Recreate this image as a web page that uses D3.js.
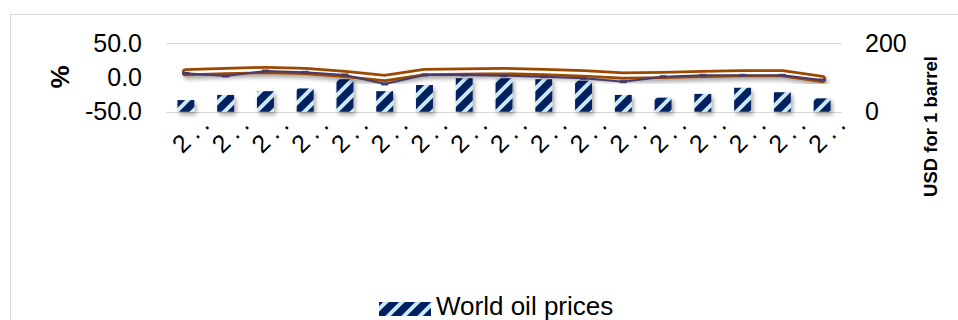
<!DOCTYPE html>
<html>
<head>
<meta charset="utf-8">
<script src="https://cdn.jsdelivr.net/npm/d3@7"></script>
<style>
  html, body { margin: 0; padding: 0; background: #fff; }
  svg { display: block; font-family: "Liberation Sans", Arial, sans-serif; }
</style>
</head>
<body>
<svg id="chart" width="958" height="320"></svg>
<script>
// ---- data ----
const categories = ["2004","2005","2006","2007","2008","2009","2010","2011","2012","2013","2014","2015","2016","2017","2018","2019","2020"];
const oilPrices = [34, 49, 60, 68, 95, 60, 78, 98, 98, 95, 91, 49, 41, 52, 70, 57, 39];
const linePurple = [6.1, 2.2, 9.5, 7.6, 3.7, -9.5, 3.7, 3.7, 2.6, 1.2, -1.2, -6.1, 1.2, 3.2, 3.2, 3.2, -3.7];
const lineOrange = [7.6, 9.5, 11, 9.5, 5.1, -0.7, 8, 8.8, 9.5, 8, 6.1, 2.9, 3.7, 5.1, 6.1, 6.1, -2.2];
const leftTicks = [-50, 0, 50];
const rightTicks = [0, 200];
const legendLabel = "World oil prices";
const leftTitle = "%";
const rightTitle = "USD for 1 barrel";

const svg = d3.select("#chart");
const plot = { left: 166, right: 842, top: 43.3, bottom: 111.7 };

// defs: pattern + shadow
const defs = svg.append("defs");
const pat = defs.append("pattern").attr("id", "hatch")
  .attr("patternUnits", "userSpaceOnUse").attr("width", 16).attr("height", 16);
pat.append("rect").attr("width", 16).attr("height", 16).attr("fill", "#002060");
pat.append("path").attr("d", "M-4,20 L20,-4 M-4,4 L4,-4 M12,20 L20,12")
  .attr("stroke", "#cfe8f4").attr("stroke-width", 4);

const f = defs.append("filter").attr("id", "shadow")
  .attr("x", "-20%").attr("y", "-50%").attr("width", "140%").attr("height", "200%");
f.append("feDropShadow").attr("dx", 2).attr("dy", 3).attr("stdDeviation", 2)
  .attr("flood-color", "#000").attr("flood-opacity", 0.35);

// border
svg.append("rect").attr("x", 10.5).attr("y", 14.5).attr("width", 1000).attr("height", 400)
  .attr("fill", "none").attr("stroke", "#d9d9d9");

// scales
const x = d3.scaleBand().domain(categories).range([plot.left, plot.right])
  .paddingInner(0.575).paddingOuter(0.2875);
const yL = d3.scaleLinear().domain([-50, 50]).range([plot.bottom, plot.top]);
const yR = d3.scaleLinear().domain([0, 200]).range([plot.bottom, plot.top]);

// gridlines (right axis majors)
svg.append("g").selectAll("line").data(rightTicks).join("line")
  .attr("x1", plot.left).attr("x2", plot.right)
  .attr("y1", d => Math.round(yR(d)) + 0.5).attr("y2", d => Math.round(yR(d)) + 0.5)
  .attr("stroke", "#d9d9d9").attr("stroke-width", 1);

// bars
svg.append("g").attr("filter", "url(#shadow)").selectAll("rect").data(oilPrices).join("rect")
  .attr("x", (d, i) => x(categories[i]))
  .attr("width", x.bandwidth())
  .attr("y", d => yR(d))
  .attr("height", d => yR(0) - yR(d))
  .attr("fill", "url(#hatch)");

// lines
const cx = (i) => x(categories[i]) + x.bandwidth() / 2;
const lineGen = d3.line().x((d, i) => cx(i)).y(d => yL(d));

const gO = svg.append("g").attr("filter", "url(#shadow)");
gO.append("path").attr("d", lineGen(lineOrange)).attr("fill", "none")
  .attr("stroke", "#9c4800").attr("stroke-width", 8)
  .attr("stroke-linecap", "round").attr("stroke-linejoin", "round");
gO.append("path").attr("d", lineGen(lineOrange)).attr("fill", "none")
  .attr("stroke", "#ffffff").attr("stroke-width", 2.6)
  .attr("stroke-linecap", "round").attr("stroke-linejoin", "round");

const gP = svg.append("g");
gP.append("path").attr("d", lineGen(linePurple)).attr("fill", "none")
  .attr("stroke", "#4a3a6a").attr("stroke-width", 2);
gP.selectAll("rect").data(linePurple).join("rect")
  .attr("x", (d, i) => cx(i) - 3.5).attr("y", d => yL(d) - 1.5)
  .attr("width", 7).attr("height", 3).attr("fill", "#4a3a6a");

// axes
const fs = 25;
const fmtL = d => d3.format(".1f")(d).replace("\u2212", "-");
const axL = d3.axisLeft(yL).tickValues(leftTicks).tickFormat(fmtL).tickSize(0).tickPadding(0);
const gL = svg.append("g").attr("transform", `translate(142,0)`).call(axL);
gL.select(".domain").remove();
gL.selectAll("text").attr("font-size", fs).attr("fill", "#000").attr("font-family", "Liberation Sans, Arial, sans-serif");

const axR = d3.axisRight(yR).tickValues(rightTicks).tickFormat(d3.format("d")).tickSize(0).tickPadding(0);
const gR = svg.append("g").attr("transform", `translate(865,0)`).call(axR);
gR.select(".domain").remove();
gR.selectAll("text").attr("font-size", fs).attr("fill", "#000").attr("font-family", "Liberation Sans, Arial, sans-serif");

// category labels (truncated, rotated)
const axB = d3.axisBottom(x).tickSize(0).tickFormat(d => d.charAt(0) + "..");
const gB = svg.append("g").call(axB);
gB.select(".domain").remove();
gB.selectAll(".tick").attr("transform", d => `translate(${x(d) + x.bandwidth() / 2 + 29},122)`);
gB.selectAll("text").attr("font-size", fs).attr("fill", "#000")
  .attr("font-family", "Liberation Sans, Arial, sans-serif")
  .attr("letter-spacing", 6)
  .attr("y", 0).attr("dy", 0).attr("text-anchor", "end")
  .attr("transform", "rotate(-45)");

// axis titles
svg.append("text").attr("transform", "translate(69,77) rotate(-90)")
  .attr("text-anchor", "middle").attr("font-size", 26).attr("font-weight", "bold").text(leftTitle);
svg.append("text").attr("transform", "translate(937,126.5) rotate(-90)")
  .attr("text-anchor", "middle").attr("font-size", 18.5).attr("font-weight", "bold").text(rightTitle);

// legend
const lg = svg.append("g");
lg.append("rect").attr("x", 379).attr("y", 302).attr("width", 52).attr("height", 14).attr("fill", "url(#hatch)");
lg.append("text").attr("x", 436).attr("y", 315).attr("font-size", 26).attr("fill", "#000").text(legendLabel);
</script>
</body>
</html>
